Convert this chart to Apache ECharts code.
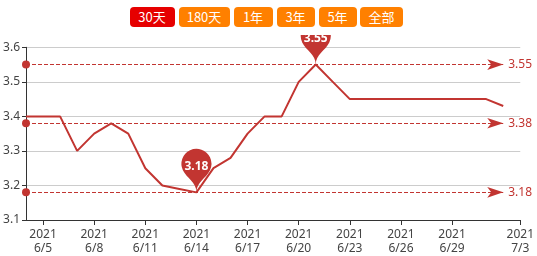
<!DOCTYPE html>
<html>
<head>
<meta charset="utf-8">
<script src="https://cdn.jsdelivr.net/npm/echarts@6/dist/echarts.min.js"></script>
<style>
  html,body{margin:0;padding:0;background:#fff;width:537px;height:256px;overflow:hidden;position:relative;}
  .btn{position:absolute;top:7px;height:20px;line-height:20px;border-radius:4px;color:#fff;text-align:center;
       font-family:"Noto Sans CJK SC","Microsoft YaHei",sans-serif;font-size:13px;background:#ff8000;}
  .btn.on{background:#e60000;}
  #chart{position:absolute;left:0;top:35px;width:537px;height:221px;}
</style>
</head>
<body>
<div id="btns"></div>
<div id="chart"></div>
<script>
// ---- data ----
const buttonLabels = ['30天', '180天', '1年', '3年', '5年', '全部'];
const dates = ['6/4','6/5','6/6','6/7','6/8','6/9','6/10','6/11','6/12','6/13','6/14','6/15','6/16','6/17','6/18','6/19',
               '6/20','6/21','6/22','6/23','6/24','6/25','6/26','6/27','6/28','6/29','6/30','7/1','7/2','7/3'];
const year = '2021';
const rates = [3.40,3.40,3.40,3.30,3.35,3.38,3.35,3.25,3.20,3.19,3.18,3.25,3.28,3.35,3.40,3.40,
               3.50,3.55,3.50,3.45,3.45,3.45,3.45,3.45,3.45,3.45,3.45,3.45,3.43,null];
const refLines = [3.55, 3.38, 3.18];
const yTicks = {min: 3.1, max: 3.6, step: 0.1};

// ---- buttons ----
const btnBox = [[129.5,45],[178.5,51],[233.5,39],[276.5,38],[318.5,38],[360,43]];
const btns = document.getElementById('btns');
buttonLabels.forEach((t, i) => {
  const d = document.createElement('div');
  d.className = 'btn' + (i === 0 ? ' on' : '');
  d.style.left = btnBox[i][0] + 'px';
  d.style.width = btnBox[i][1] + 'px';
  d.textContent = t;
  btns.appendChild(d);
});

// ---- chart ----
const color = '#c23531';
const lastIdx = dates.length - 1;
let lastData = 0;
rates.forEach((v, i) => { if (v != null) lastData = i; });
const showIdx = (i) => (i >= 1 && (i - 1) % 3 === 0 && i <= lastIdx - 3) || i === lastIdx;
const font = '"Noto Sans","Microsoft YaHei",sans-serif';

const chart = echarts.init(document.getElementById('chart'), null, {renderer: 'canvas'});
chart.setOption({
  animation: false,
  grid: {left: 26, right: 15.5, top: 12.3, bottom: 32.7, containLabel: false},
  xAxis: {
    type: 'category',
    boundaryGap: false,
    data: dates,
    axisLine: {lineStyle: {color: '#333'}},
    axisTick: {interval: (i) => showIdx(i), length: 5, lineStyle: {color: '#333'}},
    axisLabel: {
      interval: (i) => showIdx(i),
      formatter: (v) => year + '\n' + v,
      color: '#444', fontSize: 12, lineHeight: 14, margin: 8, fontFamily: font
    },
    splitLine: {show: false}
  },
  yAxis: {
    type: 'value',
    min: yTicks.min, max: yTicks.max, interval: yTicks.step,
    axisLine: {show: true, lineStyle: {color: '#333'}},
    axisTick: {show: true, length: 4, lineStyle: {color: '#333'}},
    axisLabel: {color: '#444', fontSize: 12, margin: 6, fontFamily: font,
                formatter: (v) => v.toFixed(1)},
    splitLine: {lineStyle: {color: '#ccc'}}
  },
  series: [{
    type: 'line',
    data: rates,
    showSymbol: false,
    symbol: 'none',
    lineStyle: {color: color, width: 2},
    itemStyle: {color: color},
    markPoint: {
      symbol: 'pin',
      symbolSize: 50,
      itemStyle: {color: color},
      label: {color: '#fff', fontSize: 12, fontWeight: 'bold', fontFamily: font,
              formatter: (p) => Number(p.value).toFixed(2)},
      data: [{type: 'max'}, {type: 'min'}]
    },
    markLine: {
      silent: true,
      symbol: ['circle', 'arrow'],
      lineStyle: {color: color, type: 'dashed', width: 1},
      label: {position: 'end', color: color, fontSize: 12, fontFamily: font,
              formatter: (p) => refLines[p.dataIndex].toFixed(2)},
      data: refLines.map((v) => [{coord: [dates[0], v]}, {coord: [dates[lastData], v]}])
    }
  }]
});
</script>
</body>
</html>
